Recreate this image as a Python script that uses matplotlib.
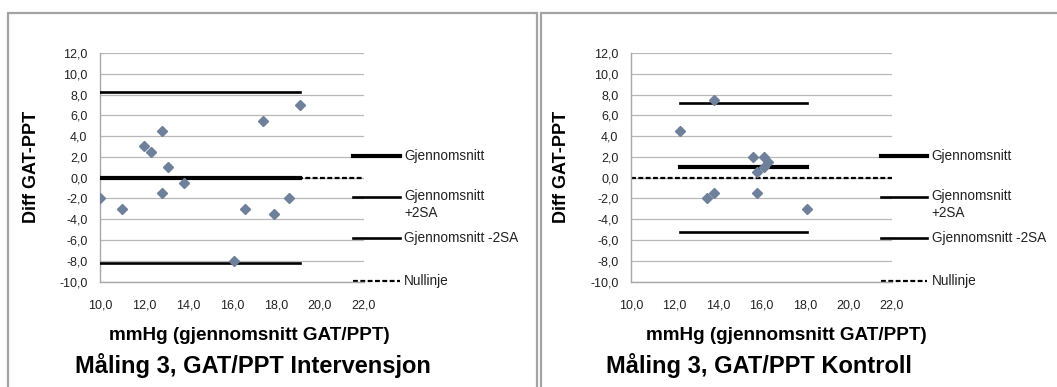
import matplotlib.pyplot as plt
from matplotlib.patches import Rectangle

plt.rcParams['font.family'] = ['Liberation Sans', 'DejaVu Sans']

# Intervensjon: gjennomsnitt GAT/PPT (x) og differanse GAT-PPT (y)
x_int = [10.0, 11.0, 12.0, 12.3, 12.8, 12.8, 13.1, 13.8, 16.1, 16.6, 17.4, 17.9, 18.6, 19.1]
y_int = [-2.0, -3.0, 3.0, 2.5, 4.5, -1.5, 1.0, -0.5, -8.0, -3.0, 5.5, -3.5, -2.0, 7.0]
snitt_int = 0.0
pluss_int = 8.2
minus_int = -8.2
linje_x_int = [10.0, 19.1]

# Kontroll
x_kon = [12.25, 13.8, 13.5, 13.8, 15.6, 16.1, 16.3, 16.1, 15.8, 15.8, 18.1]
y_kon = [4.5, 7.5, -2.0, -1.5, 2.0, 2.0, 1.5, 1.0, 0.5, -1.5, -3.0]
snitt_kon = 1.0
pluss_kon = 7.2
minus_kon = -5.2
linje_x_kon = [12.25, 18.1]

nullinje_x = [10.0, 22.0]
x_ticks = [10, 12, 14, 16, 18, 20, 22]
y_ticks = [-10, -8, -6, -4, -2, 0, 2, 4, 6, 8, 10, 12]
legend_labels = ['Gjennomsnitt', 'Gjennomsnitt\n+2SA', 'Gjennomsnitt -2SA', 'Nullinje']

fig = plt.figure(figsize=(10.57, 3.87), dpi=100)

# rammer rundt diagrammene
for x0, w in [(8, 529), (541, 530)]:
    fig.patches.append(Rectangle((x0 / 1057, -0.1), w / 1057, 1.1 - 13 / 387,
                                 transform=fig.transFigure, fill=False,
                                 edgecolor='#a3a3a3', lw=1.6))


def tegn(ax, x, y, snitt, pluss, minus, linje_x):
    ax.plot(nullinje_x, [0, 0], color='black', lw=1.6, dashes=(2.2, 1.1), zorder=2)
    ax.plot(linje_x, [snitt, snitt], color='black', lw=3.0, zorder=3)
    ax.plot(linje_x, [pluss, pluss], color='black', lw=1.9, zorder=3)
    ax.plot(linje_x, [minus, minus], color='black', lw=1.9, zorder=3)
    ax.plot(x, y, 'D', ms=5.4, color='#6f809a', zorder=4)

    ax.set_xlim(10, 22)
    ax.set_ylim(-10, 12)
    ax.set_xticks(x_ticks)
    ax.set_yticks(y_ticks)
    ax.set_xticklabels([f"{v:.1f}".replace('.', ',') for v in x_ticks])
    ax.set_yticklabels([f"{v:.1f}".replace('.', ',') for v in y_ticks])
    ax.tick_params(length=0, labelsize=9, colors='#222222')
    ax.tick_params(axis='x', pad=13)
    ax.tick_params(axis='y', pad=9)
    ax.yaxis.grid(True, color='#b8b8b8', lw=0.9)
    ax.set_axisbelow(True)
    for s in ['top', 'right']:
        ax.spines[s].set_visible(False)
    for s in ['left', 'bottom']:
        ax.spines[s].set_color('#a8a8a8')
        ax.spines[s].set_linewidth(1.0)

    # forklaring
    stil = [dict(lw=3.0), dict(lw=1.9), dict(lw=1.9), dict(lw=1.6, dashes=(2.2, 1.1))]
    ypos = [0.549, 0.370, 0.190, 0.004]
    for lab, yy, st in zip(legend_labels, ypos, stil):
        ax.plot([0.958, 1.136], [yy, yy], transform=ax.transAxes, clip_on=False,
                color='black', **st)
        if '\n' in lab:
            ax.text(1.152, yy + 0.034, lab, transform=ax.transAxes, va='top',
                    fontsize=9.8, color='#222222', linespacing=1.25)
        else:
            ax.text(1.152, yy, lab, transform=ax.transAxes, va='center',
                    fontsize=9.8, color='#222222')


ax1 = fig.add_axes([100 / 1057, 0.2726, 264 / 1057, 0.5904])
tegn(ax1, x_int, y_int, snitt_int, pluss_int, minus_int, linje_x_int)
ax2 = fig.add_axes([631 / 1057, 0.2726, 261 / 1057, 0.5904])
tegn(ax2, x_kon, y_kon, snitt_kon, pluss_kon, minus_kon, linje_x_kon)

# aksetitler og diagramtitler
for xc in [31, 561]:
    fig.text(xc / 1057, 1 - 167 / 387, 'Diff GAT-PPT', rotation=90, ha='center', va='center',
             fontsize=13, fontweight='bold')
fig.text(249 / 1057, 1 - 336 / 387, 'mmHg (gjennomsnitt GAT/PPT)', ha='center', va='center',
         fontsize=13.6, fontweight='bold')
fig.text(786 / 1057, 1 - 336 / 387, 'mmHg (gjennomsnitt GAT/PPT)', ha='center', va='center',
         fontsize=13.6, fontweight='bold')
fig.text(253 / 1057, 1 - 366 / 387, 'Måling 3, GAT/PPT Intervensjon', ha='center', va='center',
         fontsize=17, fontweight='bold')
fig.text(759 / 1057, 1 - 366 / 387, 'Måling 3, GAT/PPT Kontroll', ha='center', va='center',
         fontsize=17, fontweight='bold')

plt.savefig('out.png', dpi=100)
